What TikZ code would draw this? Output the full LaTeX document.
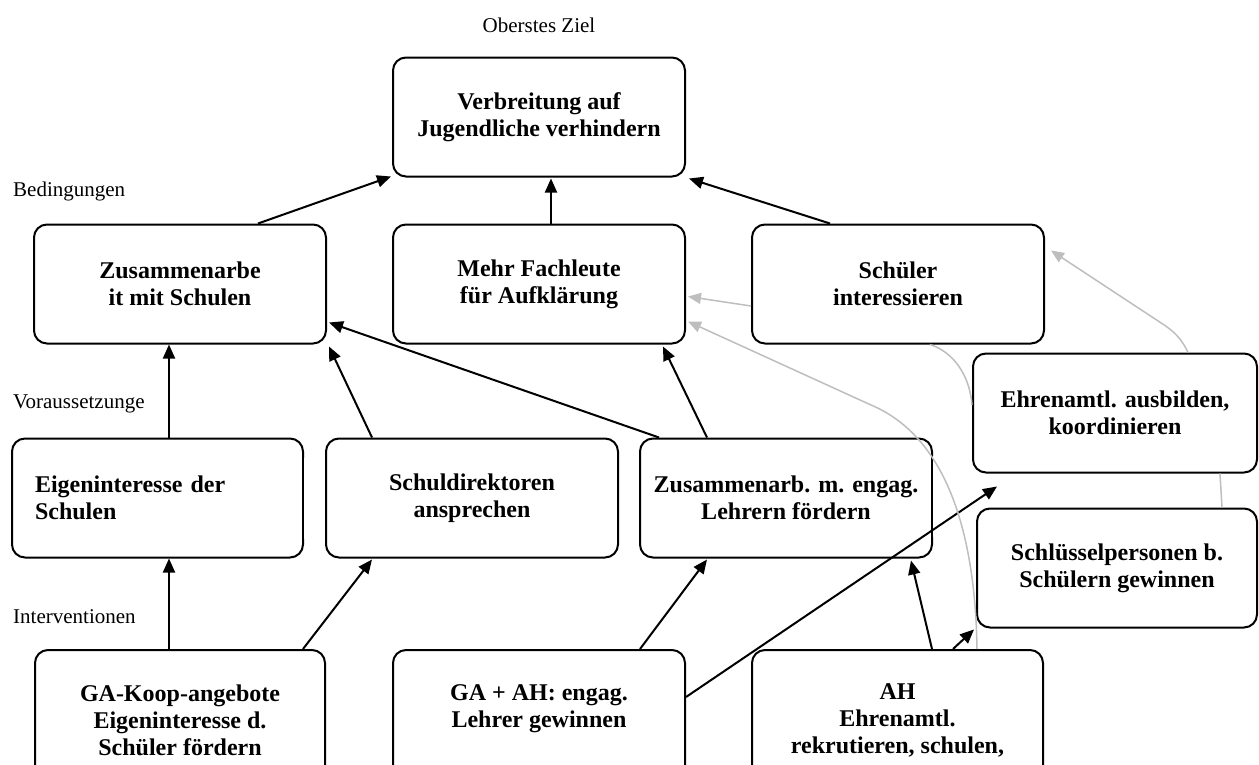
\documentclass[tikz,border=0pt]{standalone}
\usepackage{fontspec}
\setmainfont{Liberation Serif}
\usetikzlibrary{arrows.meta,calc}
\begin{document}
\begin{tikzpicture}[x=1pt,y=-1pt,
  boxn/.style={draw, line width=2pt, rounded corners=13pt, fill=white,
    minimum width=292pt, minimum height=119pt, inner sep=0pt,
    font=\bfseries\fontsize{24}{27}\selectfont, align=center},
  lab/.style={font=\fontsize{21}{25}\selectfont, inner sep=0pt},
  arr/.style={-{Triangle[length=14pt,width=12pt]}, line width=2pt},
  garr/.style={-{Triangle[length=13pt,width=11pt]}, line width=1.5pt, draw=gline},
  gl/.style={line width=1.5pt, draw=gline},
  thinedge/.style={line width=0.7pt}
]
\definecolor{gline}{RGB}{190,190,190}
\useasboundingbox (0,0) rectangle (1259,764);
\clip (0,0) rectangle (1259,764);

% labels
\node[lab, anchor=base] (lz) at (539,32) {Oberstes Ziel};
\node[lab, anchor=base west] (lb) at (13,196) {Bedingungen};
\node[lab, anchor=base west] (lv) at (13,408) {Voraussetzunge};
\node[lab, anchor=base west] (li) at (13,623) {Interventionen};

% boxes
\node[boxn] (ziel) at (539,117) {Verbreitung auf\\Jugendliche verhindern};
\node[boxn] (zus) at (180,284) {Zusammenarbe\\it mit Schulen};
\node[boxn] (mehr) at (539,284) {Mehr Fachleute\\für Aufklärung};
\node[boxn] (schuel) at (898,284) {Schüler\\interessieren};
\node[boxn, minimum width=284pt] (ehren) at (1115,413) {Ehrenamtl. ausbilden,\\koordinieren};
\node[boxn, minimum width=280pt] (schl) at (1117,568) {Schlüsselpersonen b.\\Schülern gewinnen};
\node[boxn, minimum width=291pt, text width=245pt, align=left] (eigen) at (157.5,498) {Eigeninteresse der\\Schulen};
\node[boxn] (direkt) at (472,498) {Schuldirektoren\\ansprechen};
\node[boxn] (zusl) at (786,498) {Zusammenarb. m. engag.\\Lehrern fördern};
\node[boxn, minimum width=290pt, minimum height=140pt] (gakoop) at (180,720) {GA-Koop-angebote\\Eigeninteresse d.\\Schüler fördern};
\node[boxn, minimum height=140pt] (gaah) at (539,720) {GA + AH: engag.\\Lehrer gewinnen\\\mbox{}};
\node[boxn, minimum width=291pt, minimum height=140pt] (ah) at (897.5,720) {AH\\Ehrenamtl.\\rekrutieren, schulen,};

% thinner right edges
\draw[white, line width=2.4pt] ($(eigen.north east)+(0,20)$) -- ($(eigen.south east)+(0,-20)$);
\draw[thinedge] ($(eigen.north east)+(-0.6,20)$) -- ($(eigen.south east)+(-0.6,-20)$);
\draw[white, line width=2.4pt] ($(zusl.north east)+(0,18)$) -- ($(zusl.south east)+(0,-22)$);
\draw[thinedge] ($(zusl.north east)+(-0.6,18)$) -- ($(zusl.south east)+(-0.6,-22)$);

% black connectors
\draw[arr] ($(zus.north)+(78,0)$) -- ($(ziel.south west)+(-1,-1)$);
\draw[arr] ($(mehr.north)+(12,0)$) -- ($(ziel.south)+(12,1)$);
\draw[arr] ($(schuel.north)+(-68,0)$) -- ($(ziel.south east)+(3,1)$);
\draw[arr] ($(eigen.north)+(11.5,0)$) -- ($(zus.south)+(-11,0)$);
\draw[arr] ($(direkt.north)+(-100,0)$) -- ($(zus.south east)+(2,2)$);
\draw[arr] ($(zusl.north west)+(20,0)$) -- ($(zus.south east)+(2,-22)$);
\draw[arr] ($(zusl.north)+(-79,0)$) -- ($(mehr.south east)+(-23,2)$);
\draw[arr] ($(gakoop.north)+(-11,0)$) -- ($(eigen.south)+(11.5,0)$);
\draw[arr] ($(gakoop.north)+(123,0)$) -- ($(direkt.south)+(-100,1)$);
\draw[arr] ($(gaah.north)+(101,0)$) -- ($(zusl.south)+(-79,1)$);
\coordinate (tipA) at ($(ehren.south west)+(25,13)$);
\draw[arr] ($(gaah.east)+(0,-23)$) -- (tipA);
\draw[arr] ($(ah.north)+(34.5,0)$) -- ($(zusl.south east)+(-22,2)$);
\draw[arr] ($(ah.north)+(55.5,0)$) -- ($(schl.south west)+(-2,1)$);

% grey connectors
\draw[garr] ($(schuel.west)+(0,22)$) -- ($(mehr.east)+(2,12.5)$);
\draw[garr] ($(ah.north)+(79.5,0)$) .. controls ($(ah.north)+(77.5,-130)$) and ($(ah.north)+(42.5,-215)$) .. ($(mehr.east)+(185,121)$) -- ($(mehr.east)+(2,37.5)$);
\draw[garr] ($(ehren.north)+(73,0)$) .. controls ($(ehren.north)+(67,-13)$) and ($(ehren.north)+(60,-20)$) .. ($(ehren.north)+(50,-27)$) -- ($(schuel.north east)+(6,27)$);
\draw[gl] ($(schuel.south)+(32,0)$) .. controls ($(schuel.south)+(57,8)$) and ($(schuel.south)+(72,33)$) .. ($(ehren.west)+(0,-8)$);
\draw[gl] ($(ehren.south)+(105,0)$) -- ($(schl.north)+(105,0)$);
\end{tikzpicture}
\end{document}
